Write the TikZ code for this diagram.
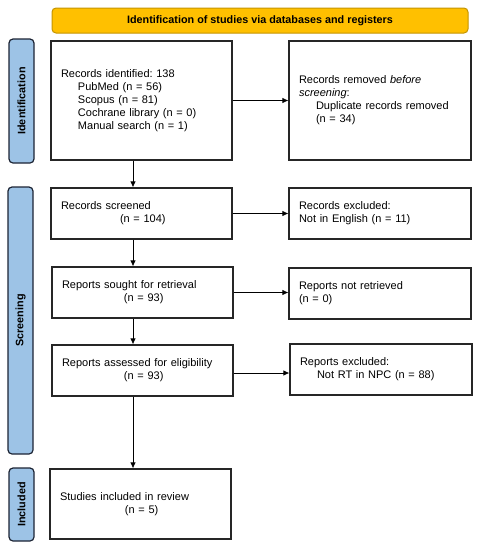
\documentclass[tikz,border=0pt]{standalone}
\usepackage{fontspec}
\setmainfont{Liberation Sans}
\frenchspacing
\usepackage{tikz}
\usetikzlibrary{arrows,arrows.meta}

\definecolor{bannergold}{RGB}{255,192,0}
\definecolor{bannerline}{RGB}{196,148,0}
\definecolor{phaseblue}{RGB}{157,195,230}
\definecolor{phaseline}{RGB}{28,36,52}

\begin{document}
\begin{tikzpicture}[x=1pt,y=-1pt,
		stagebox/.style={rectangle,draw=black!85,line width=1.2pt,fill=white,align=left,
			inner xsep=10pt,inner ysep=0pt,font=\fontsize{11}{13}\selectfont},
		phase/.style={rectangle,rounded corners=4pt,draw=phaseline,line width=1.2pt,fill=phaseblue,
			rotate=90,inner sep=0pt,font=\fontsize{10.8}{13}\selectfont\bfseries},
		flow/.style={line width=0.8pt,-{Latex[length=6pt,width=5.5pt]}}]
		\useasboundingbox (0,0) rectangle (479,550);
%		\draw[help lines,step=50] (0,0) grid (479,550);
		\path (133,0) coordinate (spine);

		\path (260,20.5) node(banner) [rectangle,rounded corners=4pt,draw=bannerline,line width=1pt,fill=bannergold,
			minimum width=416pt,minimum height=25pt,inner sep=0pt,font=\fontsize{10.8}{13}\selectfont\bfseries]
			{Identification of studies via databases and registers};

		\path (21.5,101) node(identification) [phase,minimum width=124pt,minimum height=25pt] {Identification};
		\path (20.5,320.5) node(screening) [phase,minimum width=267pt,minimum height=25pt] {Screening};
		\path (21.5,504.5) node(included) [phase,minimum width=73pt,minimum height=25pt] {Included};

		\path (141.5,100.5) node(records) [stagebox,text width=161pt,minimum height=119pt]
			{Records identified: 138\\
			\hspace*{17pt}PubMed (n = 56)\\
			\hspace*{17pt}Scopus (n = 81)\\
			\hspace*{17pt}Cochrane library (n = 0)\\
			\hspace*{17pt}Manual search (n = 1)};
		\path (380,100.5) node(removed) [stagebox,text width=162pt,minimum height=119pt]
			{Records removed \emph{before}\\
			\emph{screening}:\\
			\hspace*{17pt}Duplicate records removed\\
			\hspace*{17pt}(n = 34)};

		\path (141.5,213.5) node(screened) [stagebox,text width=161pt,minimum height=51pt]
			{Records screened\\
			\hspace*{59pt}(n = 104)};
		\path (380,213.5) node(excluded) [stagebox,text width=162pt,minimum height=51pt]
			{Records excluded:\\
			Not in English (n = 11)};

		\path (142.5,292.5) node(sought) [stagebox,text width=161pt,minimum height=51pt]
			{Reports sought for retrieval\\
			\hspace*{62pt}(n = 93)};
		\path (380,293.5) node(notretrieved) [stagebox,text width=162pt,minimum height=51pt]
			{Reports not retrieved\\
			(n = 0)};

		\path (142.5,370.5) node(assessed) [stagebox,text width=161pt,minimum height=51pt]
			{Reports assessed for eligibility\\
			\hspace*{62pt}(n = 93)};
		\path (381,369.5) node(reportsexcl) [stagebox,text width=162pt,minimum height=51pt]
			{Reports excluded:\\
			\hspace*{17pt}Not RT in NPC (n = 88)};

		\path (140.5,504) node(studies) [stagebox,text width=161pt,minimum height=70pt]
			{Studies included in review\\
			\hspace*{65pt}(n = 5)};

		\draw[flow] (records.east) -- (records.east -| removed.west);
		\draw[flow] (screened.east) -- (screened.east -| excluded.west);
		\draw[flow] (sought.east) -- (sought.east -| notretrieved.west);
		\draw[flow] ([yshift=-2.5pt]assessed.east) -- ([yshift=-2.5pt]assessed.east -| reportsexcl.west);
		\draw[flow] (records.south -| spine) -- (screened.north -| spine);
		\draw[flow] (screened.south -| spine) -- (sought.north -| spine);
		\draw[flow] (sought.south -| spine) -- (assessed.north -| spine);
		\draw[flow] (assessed.south -| spine) -- (studies.north -| spine);
	\end{tikzpicture}
\end{document}
